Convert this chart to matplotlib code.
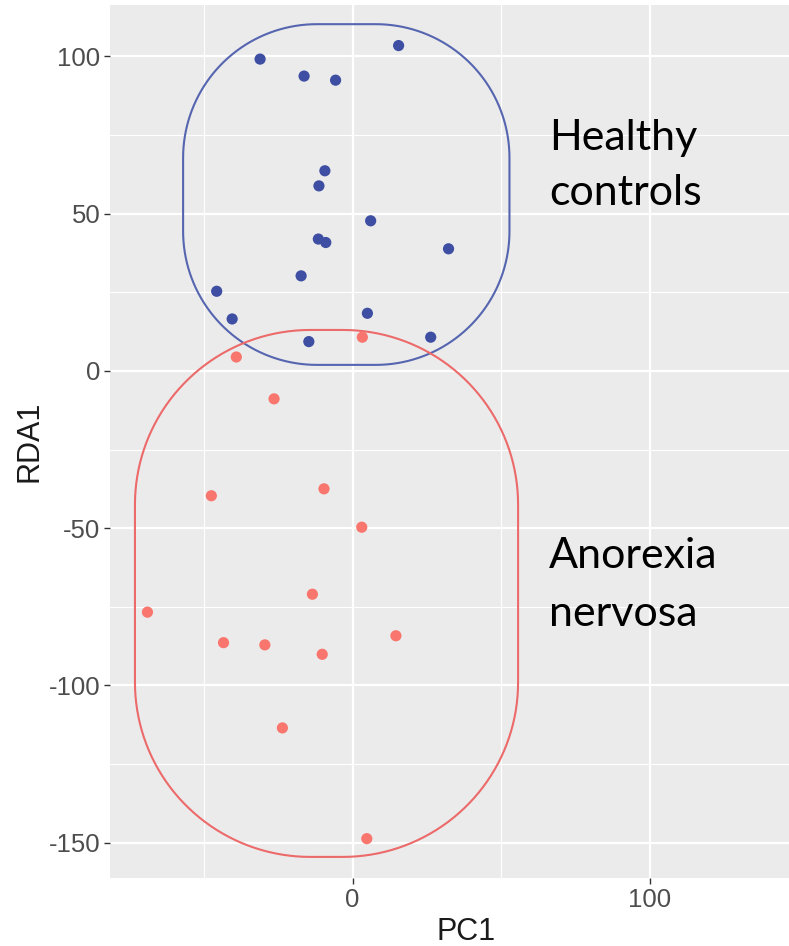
import numpy as np
import matplotlib.pyplot as plt
from matplotlib.patches import Polygon

plt.rcParams['font.family'] = ['Liberation Sans', 'DejaVu Sans']
plt.rcParams['axes.unicode_minus'] = False

# ---- data ----
healthy_pc1 = [-31.1, -16.3, -5.7, 15.5, -9.3, -11.3, 6.1, -11.5, -9.0,
               32.3, -17.3, -45.7, -40.5, 5.0, 26.3, -14.7]
healthy_rda1 = [99.1, 93.7, 92.4, 103.4, 63.6, 58.8, 47.7, 41.9, 40.8,
                38.8, 30.2, 25.3, 16.5, 18.3, 10.7, 9.3]

anorexia_pc1 = [-39.1, 3.3, -26.4, -47.5, -9.6, 3.1, -69.0, -13.5, -43.4,
                -29.5, -10.2, 14.6, -23.6, 4.8]
anorexia_rda1 = [4.4, 10.7, -8.9, -39.7, -37.5, -49.7, -76.7, -71.0, -86.4,
                 -87.1, -90.1, -84.2, -113.5, -148.7]

# group outlines drawn over the plot: x0, y0, x1, y1 (data units)
healthy_box = (-57.0, 1.9, 52.8, 110.2)
anorexia_box = (-73.2, -154.5, 55.7, 13.0)

x_ticks = [0, 100]
y_ticks = [-150, -100, -50, 0, 50, 100]

blue = "#3d4ea3"
blue_line = "#5665b0"
red = "#f8766d"
red_line = "#ec6a6a"

fig = plt.figure(figsize=(7.89, 9.46), dpi=100)
ax = fig.add_axes([0.1394, 0.0719, 0.903, 0.9225])

ax.set_facecolor("#ebebeb")
for s in ax.spines.values():
    s.set_visible(False)

ax.set_xlim(-81.6, 158.1)
ax.set_ylim(-161.2, 116.2)

ax.set_xticks(x_ticks)
ax.set_yticks(y_ticks)
ax.set_xticks([-50, 50, 150], minor=True)
ax.set_yticks([-125, -75, -25, 25, 75], minor=True)
ax.grid(which="major", color="white", linewidth=1.6)
ax.grid(which="minor", color="white", linewidth=0.8)
ax.set_axisbelow(True)

ax.tick_params(which="major", length=4, width=1, color="#333333",
               labelsize=18.5, labelcolor="#4d4d4d", pad=3)
ax.tick_params(which="minor", length=0)

ax.set_xlabel("PC1", fontsize=22, color="#1a1a1a", labelpad=4)
ax.set_ylabel("RDA1", fontsize=22, color="#1a1a1a", labelpad=3)


# rounded outline with elliptical corners (rx, ry in data units)
def outline(box, rx, ry, color):
    x0, y0, x1, y1 = box
    t = np.linspace(0, np.pi / 2, 40)
    pts = []
    # corners: top-right, top-left, bottom-left, bottom-right
    for cx, cy, start in [(x1 - rx, y1 - ry, 0), (x0 + rx, y1 - ry, np.pi / 2),
                          (x0 + rx, y0 + ry, np.pi), (x1 - rx, y0 + ry, 1.5 * np.pi)]:
        pts.extend(zip(cx + rx * np.cos(t + start), cy + ry * np.sin(t + start)))
    ax.add_patch(Polygon(pts, closed=True, fill=False, edgecolor=color,
                         linewidth=1.5, zorder=2))


outline(healthy_box, 45.0, 42.5, blue_line)
outline(anorexia_box, 59.0, 55.5, red_line)

ax.scatter(healthy_pc1, healthy_rda1, s=65, color=blue, edgecolors="none", zorder=3)
ax.scatter(anorexia_pc1, anorexia_rda1, s=65, color=red, edgecolors="none", zorder=3)

# labels added on top of the figure
for txt, yy in [("Healthy", 70.2), ("controls", 52.8)]:
    ax.text(66.2, yy, txt, fontsize=31, family="Lato", va="baseline", ha="left", color="black")
for txt, yy in [("Anorexia", -62.6), ("nervosa", -81.1)]:
    ax.text(66.2, yy, txt, fontsize=31, family="Lato", va="baseline", ha="left", color="black")

fig.savefig("out.png", dpi=100)
